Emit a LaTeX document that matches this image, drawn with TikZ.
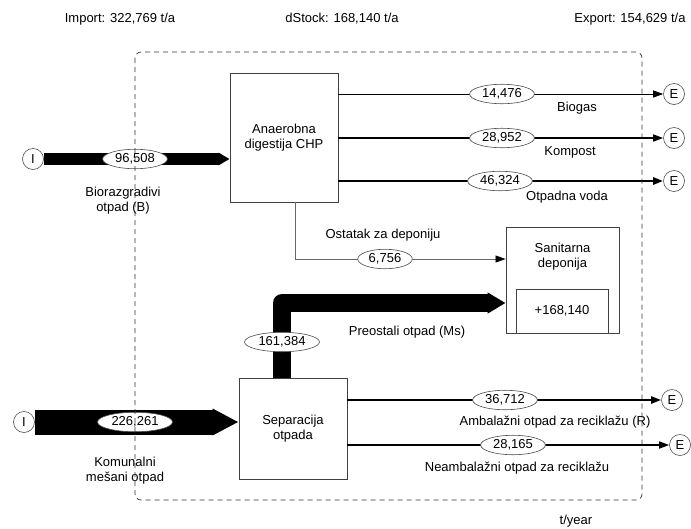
\documentclass[tikz,border=0pt]{standalone}
\usepackage{fontspec}
\setmainfont{Liberation Sans}
\usetikzlibrary{arrows.meta, shapes.geometric, positioning}

\begin{document}
\begin{tikzpicture}[x=1pt, y=-1pt, >=latex,
    every node/.style={font=\fontsize{13}{15}\selectfont},
    box/.style={draw=black!75, line width=0.9pt, fill=white, align=center},
    val/.style={ellipse, draw=black!70, line width=0.6pt, fill=white, inner xsep=3pt, inner ysep=1.5pt},
    io/.style={circle, draw=black!70, line width=0.6pt, minimum size=21pt, inner sep=0pt},
    lbl/.style={align=center},
    flowtip/.style={-{Triangle[length=10pt,width=7pt,color=black]}}]

    % okvir slike
    \useasboundingbox (0,0) rectangle (691,528);

    % ulazi i procesi
    \node[io] (iB) at (33,159) {I};
    \node[io] (iK) at (24,422) {I};
    \node[box, minimum width=108pt, minimum height=129pt] (anaer) at (284,137.5) {Anaerobna\\digestija CHP};
    \node[box, minimum width=108pt, minimum height=101pt] (separ) at (293,428.5) {Separacija\\otpada};
    \node[box, minimum width=113pt, minimum height=106pt] (depon) at (562.5,280) {};
    \node[lbl] (deponTxt) at (562.5,257) {Sanitarna\\deponija};
    \node[box, minimum width=92pt, minimum height=44pt] (stock) at (562,311) {+168,140};

    % izlazi
    \foreach \n/\x/\y in {Bio/674/94, Komp/674/138, Voda/674/181, Amb/672/400, Neamb/680/445}
        \node[io] (e\n) at (\x,\y) {E};

    % debeli tokovi
    \draw[line width=12pt, -{Triangle[length=11pt,width=12pt]}] (iB.east) -- (iB -| anaer.west);
    \draw[line width=25pt, -{Triangle[length=26pt,width=25pt]}] (iK.east) -- (iK -| separ.west);
    \coordinate (preS) at (282,378);
    \coordinate (preK) at (282,303);
    \draw[line width=18pt, line join=round, -{Triangle[length=18pt,width=20pt]}] (preS) -- (preK) -- (preK -| depon.west);

    % tanki tokovi
    \draw[line width=0.8pt, flowtip] (anaer.east |- eBio) -- (eBio);
    \draw[line width=1.6pt, flowtip] (anaer.east |- eKomp) -- (eKomp);
    \draw[line width=2.6pt, flowtip] (anaer.east |- eVoda) -- (eVoda);
    \draw[line width=2.2pt, flowtip] (separ.east |- eAmb) -- (eAmb);
    \draw[line width=1.6pt, flowtip] (separ.east |- eNeamb) -- (eNeamb);
    \coordinate (ostS) at (295,202);
    \coordinate (ostK) at (295,259);
    \draw[line width=0.7pt, draw=black!60, flowtip] (ostS) -- (ostK) -- (ostK -| depon.west);

    % vrijednosti
    \node[val] (vB) at (135,159) {96,508};
    \node[val] (vBio) at (502,94) {14,476};
    \node[val] (vKomp) at (502,138) {28,952};
    \node[val] (vVoda) at (500,181) {46,324};
    \node[val] (vOst) at (385,259) {6,756};
    \node[val] (vPre) at (282,342) {161,384};
    \node[val] (vK) at (135,422) {226,261};
    \node[val] (vAmb) at (505,400) {36,712};
    \node[val] (vNeamb) at (513,445) {28,165};

    % nazivi tokova
    \node[lbl] (lBio) at (577,108) {Biogas};
    \node[lbl] (lKomp) at (570,152) {Kompost};
    \node[lbl] (lVoda) at (567,197) {Otpadna voda};
    \node[lbl] (lOst) at (383,235) {Ostatak za deponiju};
    \node[lbl] (lPre) at (407,332) {Preostali otpad (Ms)};
    \node[lbl] (lAmb) at (555,422) {Ambalažni otpad za reciklažu (R)};
    \node[lbl] (lNeamb) at (517,468) {Neambalažni otpad za reciklažu};
    \node[lbl] (lB) at (123,201) {Biorazgradivi\\otpad (B)};
    \node[lbl] (lK) at (125,471) {Komunalni\\mešani otpad};

    % bilans
    \node (imp) at (120,19) {Import: 322,769 t/a};
    \node (dst) at (342,19) {dStock: 168,140 t/a};
    \node (exp) at (630,19) {Export: 154,629 t/a};
    \node (unit) at (576,521) {t/year};

    % granica sistema
    \draw[dash pattern=on 5pt off 4pt, draw=black!80, line width=0.7pt, rounded corners=6pt] (135,52) rectangle (642,500);
\end{tikzpicture}
\end{document}
